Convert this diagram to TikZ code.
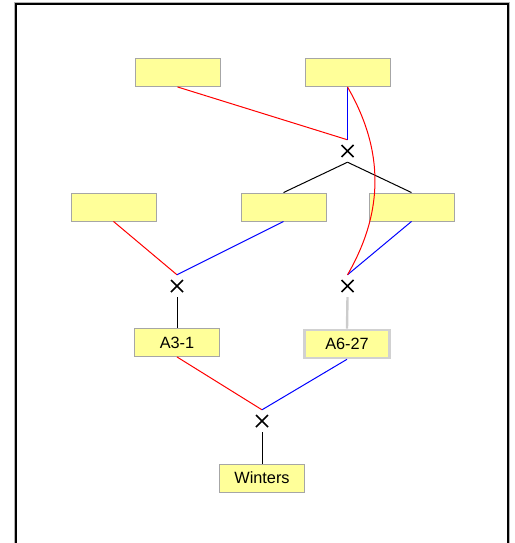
\documentclass[tikz,border=0pt]{standalone}
\usepackage{fontspec}
\setmainfont{Liberation Sans}
\definecolor{boxyellow}{RGB}{255,255,153}
\begin{document}
\begin{tikzpicture}[x=1pt,y=-1pt,
  box/.style={rectangle,draw=black!35,fill=boxyellow,line width=0.9pt,minimum width=85pt,minimum height=28pt,inner sep=0pt,font=\fontsize{16.3}{17}\selectfont},
  shadowbox/.style={box,draw=black!18,line width=2.6pt},
  crossmark/.style={rectangle,minimum size=22pt,inner sep=0pt,
    path picture={\draw[line width=1.7pt,black] ([xshift=-6pt,yshift=-6pt]path picture bounding box.center) -- ([xshift=6pt,yshift=6pt]path picture bounding box.center)
      ([xshift=-6pt,yshift=6pt]path picture bounding box.center) -- ([xshift=6pt,yshift=-6pt]path picture bounding box.center);}},
  redl/.style={draw=red,line width=1pt},
  bluel/.style={draw=blue,line width=1pt},
  blackl/.style={draw=black,line width=1pt},
  grayl/.style={draw=black!20,line width=2.4pt}]
\useasboundingbox (0,0) rectangle (514,543);
\draw[black!30,line width=1pt] (14.5,2.5) rectangle (509.5,560);
\draw[black,line width=1.6pt] (16,4) rectangle (508,560);
% nodes
\node[box] (t1) at (177.5,72.5) {};
\node[box] (t2) at (347.5,72.5) {};
\node[box] (m1) at (113.5,207) {};
\node[box] (m2) at (283.5,207) {};
\node[box] (m3) at (411.5,207) {};
\node[box] (a31) at (177,342.5) {A3-1};
\node[shadowbox] (a627) at (347,344) {A6-27};
\node[box] (win) at (262,478) {Winters};
\node[crossmark] (c1) at (347.5,151) {};
\node[crossmark] (c2) at (177,286) {};
\node[crossmark] (c3) at (347.5,286) {};
\node[crossmark] (c4) at (262,421) {};
% connectors
\draw[redl] (t1.south) -- (c1.north);
\draw[bluel] (t2.south) -- (c1.north);
\draw[blackl] (c1.south) -- (m2.north);
\draw[blackl] (c1.south) -- (m3.north);
\draw[redl] (m1.south) -- (c2.north);
\draw[bluel] (m2.south) -- (c2.north);
\draw[bluel] (m3.south) -- (c3.north);
\draw[redl] (t2.south) to[bend left=30] (c3.north);
\draw[blackl] (c2.south) -- (a31.north);
\draw[grayl] (c3.south) -- (a627.north);
\draw[redl] (a31.south) -- (c4.north);
\draw[bluel] (a627.south) -- (c4.north);
\draw[blackl] (c4.south) -- (win.north);
\end{tikzpicture}
\end{document}
